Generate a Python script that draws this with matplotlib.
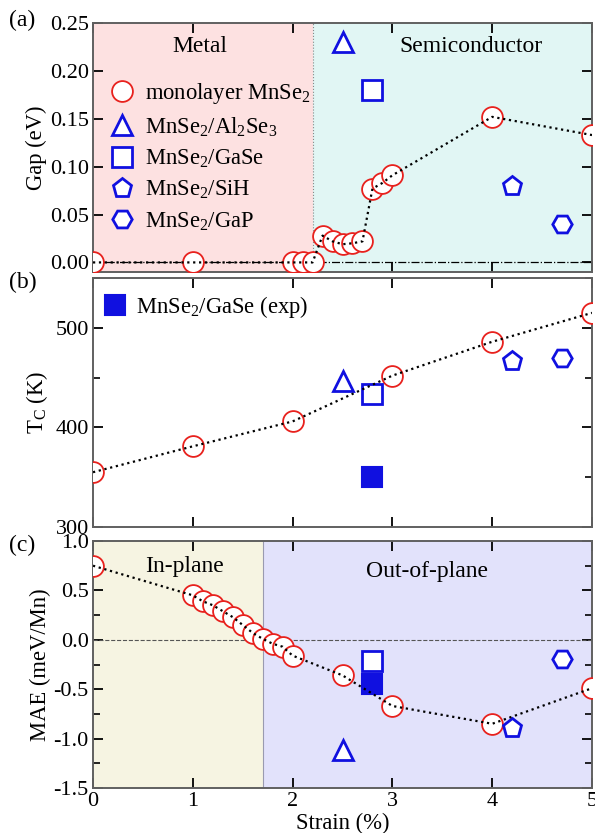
import matplotlib
matplotlib.use("Agg")
import matplotlib.pyplot as plt
from matplotlib.ticker import MultipleLocator

plt.rcParams['font.family'] = ['Liberation Serif', 'DejaVu Serif']
plt.rcParams['mathtext.fontset'] = 'custom'
plt.rcParams['mathtext.rm'] = 'Liberation Serif'
plt.rcParams['mathtext.it'] = 'Liberation Serif:italic'
plt.rcParams['font.size'] = 16

# ---------------- data ----------------
strain_gap = [0, 1, 2.0, 2.1, 2.2, 2.3, 2.4, 2.5, 2.6, 2.7, 2.8, 2.9, 3.0, 4, 5]
gap_mono = [0, 0, 0, 0, 0, 0.028, 0.022, 0.019, 0.020, 0.022, 0.077, 0.083, 0.091, 0.152, 0.133]

strain_tc = [0, 1, 2, 3, 4, 5]
tc_mono = [355, 381, 406, 452, 486, 515]

strain_mae = [0, 1.0, 1.1, 1.2, 1.3, 1.4, 1.5, 1.6, 1.7, 1.8, 1.9, 2.0, 2.5, 3, 4, 5]
mae_mono = [0.75, 0.45, 0.39, 0.35, 0.29, 0.23, 0.15, 0.07, 0.01, -0.04, -0.07, -0.16,
            -0.36, -0.67, -0.85, -0.49]

het_names = ['MnSe$_2$/Al$_2$Se$_3$', 'MnSe$_2$/GaSe', 'MnSe$_2$/SiH', 'MnSe$_2$/GaP']
het_markers = ['^', 's', 'p', 'H']
het_strain = [2.5, 2.8, 4.2, 4.7]
het_gap = [0.230, 0.180, 0.080, 0.040]
het_tc = [447, 434, 467, 470]
het_mae = [-1.12, -0.21, -0.89, -0.19]

exp_name = 'MnSe$_2$/GaSe (exp)'
exp_strain = 2.8
exp_tc = 350
exp_mae = -0.45

mono_name = 'monolayer MnSe$_2$'

# ---------------- figure ----------------
W, H = 595, 833
fig = plt.figure(figsize=(W / 100, H / 100), dpi=100)

def make_ax(top_px, bot_px):
    l, r = 93, 592
    return fig.add_axes([l / W, 1 - bot_px / H, (r - l) / W, (bot_px - top_px) / H])

axa = make_ax(23, 272)
axb = make_ax(278, 527)
axc = make_ax(541, 788)

red = '#e8211d'
blue = '#1010e0'
spine_c = '#606060'
FS = 16
FS_LAB = 16.3
FS_TXT = 17

def style(ax):
    ax.set_xlim(0, 5)
    ax.xaxis.set_major_locator(MultipleLocator(1))
    ax.tick_params(which='both', direction='in', top=True, right=True, color='black')
    ax.tick_params(which='major', length=7, width=1.3, labelsize=FS, pad=3)
    ax.tick_params(which='minor', length=5, width=1.2)
    for s in ax.spines.values():
        s.set_color(spine_c)
        s.set_linewidth(1.4)

mono_kw = dict(marker='o', ms=15, mfc='white', mec=red, mew=1.3, ls='none', zorder=3)
het_kw = dict(ms=14, mfc='white', mec=blue, mew=2.0, ls='none', zorder=3)
line_kw = dict(color='black', ls=':', lw=1.6, zorder=4)

# ---- (a) ----
ax = axa
style(ax)
ax.set_ylim(-0.01, 0.25)
ax.yaxis.set_major_locator(MultipleLocator(0.05))
ax.yaxis.set_major_formatter(matplotlib.ticker.FormatStrFormatter('%.2f'))
ax.axvspan(0, 2.2, color='#fde1e1', zorder=0, lw=0)
ax.axvspan(2.2, 5, color='#e1f6f4', zorder=0, lw=0)
ax.axvline(2.2, color='#888888', ls=':', lw=0.8, zorder=1)
ax.axhline(0, color='black', ls='-.', lw=0.9, zorder=2)
ax.text(1.07, 0.220, 'Metal', ha='center', va='baseline', fontsize=FS_TXT)
ax.text(3.79, 0.220, 'Semiconductor', ha='center', va='baseline', fontsize=FS_TXT)
hm, = ax.plot(strain_gap, gap_mono, label=mono_name, **mono_kw)
ax.plot(strain_gap, gap_mono, **line_kw)
handles = [hm]
for n, m, x, y in zip(het_names, het_markers, het_strain, het_gap):
    h, = ax.plot([x], [y], marker=m, label=n, **het_kw)
    handles.append(h)
ax.legend(handles=handles, loc='upper left', bbox_to_anchor=(0.0, 0.83), frameon=False,
          fontsize=FS_LAB, handletextpad=0.4, labelspacing=0.4, handlelength=1.2,
          borderaxespad=0.3)
ax.set_xticklabels([])
ax.set_ylabel('Gap (eV)', fontsize=FS_LAB, labelpad=2)

# ---- (b) ----
ax = axb
style(ax)
ax.set_ylim(300, 550)
ax.yaxis.set_major_locator(MultipleLocator(100))
ax.yaxis.set_minor_locator(MultipleLocator(50))
ax.plot(strain_tc, tc_mono, **mono_kw)
ax.plot(strain_tc, tc_mono, **line_kw)
for n, m, x, y in zip(het_names, het_markers, het_strain, het_tc):
    ax.plot([x], [y], marker=m, **het_kw)
he, = ax.plot([exp_strain], [exp_tc], marker='s', ms=14, mfc=blue, mec=blue, mew=1.5,
              ls='none', zorder=3, label=exp_name)
ax.legend(handles=[he], loc='upper left', frameon=False, fontsize=FS_LAB,
          handletextpad=0.4, handlelength=1.0, borderaxespad=0.3,
          bbox_to_anchor=(-0.01, 1.0))
ax.set_xticklabels([])
ax.set_ylabel('T$_\\mathregular{C}$ (K)', fontsize=FS_LAB, labelpad=4)

# ---- (c) ----
ax = axc
style(ax)
ax.set_ylim(-1.5, 1.0)
ax.yaxis.set_major_locator(MultipleLocator(0.5))
ax.yaxis.set_minor_locator(MultipleLocator(0.25))
ax.yaxis.set_major_formatter(matplotlib.ticker.FormatStrFormatter('%.1f'))
ax.axvspan(0, 1.7, color='#f6f4e2', zorder=0, lw=0)
ax.axvspan(1.7, 5, color='#e2e2fb', zorder=0, lw=0)
ax.axvline(1.7, color='#9a9ab0', ls='-', lw=0.8, zorder=1)
ax.axhline(0, color='#555555', ls='--', lw=0.8, zorder=2)
ax.text(0.92, 0.686, 'In-plane', ha='center', va='baseline', fontsize=FS_TXT)
ax.text(3.35, 0.636, 'Out-of-plane', ha='center', va='baseline', fontsize=FS_TXT)
ax.plot(strain_mae, mae_mono, **mono_kw)
ax.plot(strain_mae, mae_mono, **line_kw)
for n, m, x, y in zip(het_names, het_markers, het_strain, het_mae):
    ax.plot([x], [y], marker=m, **het_kw)
ax.plot([exp_strain], [exp_mae], marker='s', ms=14, mfc=blue, mec=blue, mew=1.5,
        ls='none', zorder=3)
ax.set_ylabel('MAE (meV/Mn)', fontsize=FS_LAB, labelpad=2)
ax.set_xlabel('Strain (%)', fontsize=FS_LAB, labelpad=1)

# panel labels
fig.text(9 / W, 1 - 20 / H, '(a)', fontsize=17, ha='left', va='center')
fig.text(9 / W, 1 - 282 / H, '(b)', fontsize=17, ha='left', va='center')
fig.text(9 / W, 1 - 545 / H, '(c)', fontsize=17, ha='left', va='center')

fig.savefig('out.png', dpi=100)
